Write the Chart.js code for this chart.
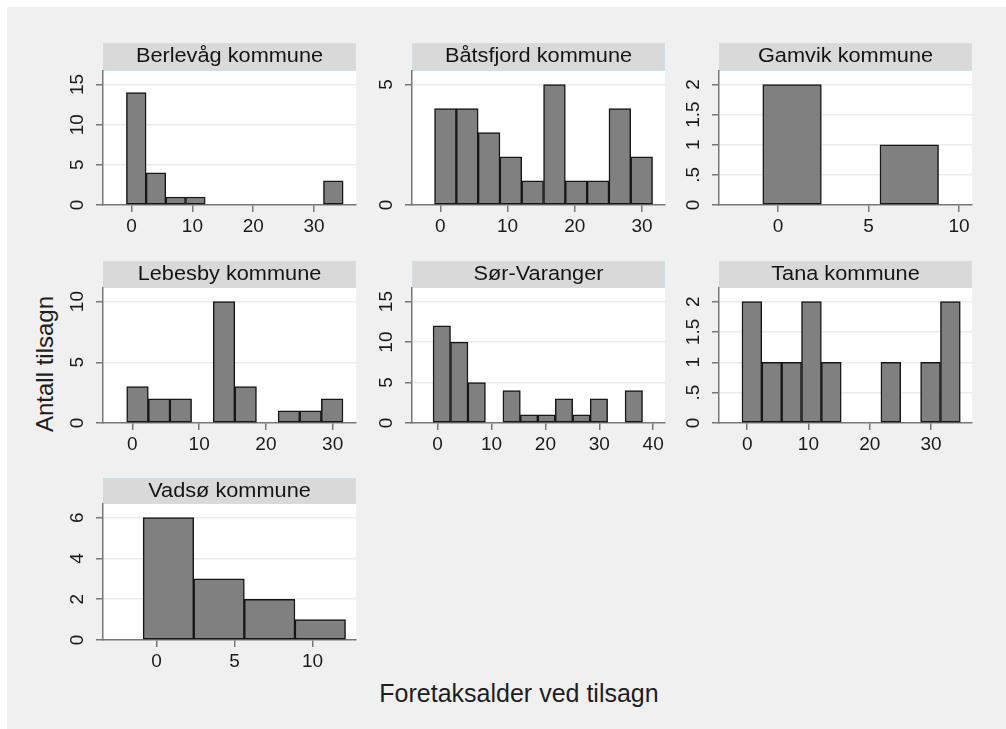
<!DOCTYPE html>
<html>
<head>
<meta charset="utf-8">
<script src="https://cdn.jsdelivr.net/npm/chart.js@4.4.0/dist/chart.umd.min.js"></script>
<style>
  html, body { margin: 0; padding: 0; background: #fff; }
  #page { position: absolute; left: 7px; top: 7px; width: 999px; height: 722px; background: #f0f0f0; }
  canvas { position: absolute; }
  .axtitle { position: absolute; font-family: "Liberation Sans", Arial, sans-serif; color: #1e1e1e;
             white-space: nowrap; line-height: 1; transform-origin: 50% 50%; }
</style>
</head>
<body>
<div id="page"></div>
<div class="axtitle" id="ytitle" style="font-size:24px; left:45px; top:364px; transform:translate(-50%,-50%) rotate(-90deg);">Antall tilsagn</div>
<div class="axtitle" id="xtitle" style="font-size:25px; left:519px; top:693px; transform:translate(-50%,-50%);">Foretaksalder ved tilsagn</div>
<script>
const panelNames = ['Berlevåg kommune', 'Båtsfjord kommune', 'Gamvik kommune',
                    'Lebesby kommune', 'Sør-Varanger', 'Tana kommune', 'Vadsø kommune'];

// histogram bins of Foretaksalder (same start/width in every panel)
const binStart = -0.85;
const binWidth = 3.24;

// number of tilsagn per bin
const berlevag    = [14, 4, 1, 1, 0, 0, 0, 0, 0, 0, 3];
const batsfjord   = [4, 4, 3, 2, 1, 5, 1, 1, 4, 2];
const gamvik      = [2, 0, 1];
const lebesby     = [3, 2, 2, 0, 10, 3, 0, 1, 1, 2];
const sorVaranger = [12, 10, 5, 0, 4, 1, 1, 3, 1, 3, 0, 4];
const tana        = [2, 1, 1, 2, 1, 0, 0, 1, 0, 1, 2];
const vadso       = [6, 3, 2, 1];
const counts = [berlevag, batsfjord, gamvik, lebesby, sorVaranger, tana, vadso];

const xTicks = [[0, 10, 20, 30], [0, 10, 20, 30], [0, 5, 10], [0, 10, 20, 30],
                [0, 10, 20, 30, 40], [0, 10, 20, 30], [0, 5, 10]];
const yTicks = [[0, 5, 10, 15], [0, 5], [0, .5, 1, 1.5, 2], [0, 5, 10],
                [0, 5, 10, 15], [0, .5, 1, 1.5, 2], [0, 2, 4, 6]];
const xMin = [-4.7, -4.2, -3.27, -4.4, -4.76, -4.6, -3.42];
const xMax = [36.9, 33.4, 10.72, 33.5, 42.2, 36.7, 12.78];

// page layout (pixels)
const colLeft = [103, 412, 719];
const plotW = 253;
const stripTop = [43, 261, 478];
const plotTop = [71, 288, 504];
const plotBottom = [205, 423, 640];
const yAxisW = 50, xAxisH = 40, rightPad = 12;

const FONT = '"Liberation Sans", Arial, sans-serif';
const axisColor = '#777777';
const textColor = '#1a1a1a';

// Stata style tick labels: .5 instead of 0.5
const fmt = v => String(v).replace(/^0\./, '.');

const panelPlugin = {
  id: 'panel',
  beforeDraw(chart, args, opts) {
    const { ctx, chartArea: a } = chart;
    ctx.save();
    ctx.fillStyle = '#ffffff';
    ctx.fillRect(a.left, a.top, a.right - a.left, a.bottom - a.top);
    // title strip
    ctx.fillStyle = '#d9d9d9';
    ctx.fillRect(a.left, 0, a.right - a.left, a.top);
    ctx.strokeStyle = '#cde0e4';
    ctx.lineWidth = 1;
    ctx.strokeRect(a.left + 0.5, 0.5, a.right - a.left - 1, a.top - 1);
    ctx.fillStyle = '#141414';
    ctx.font = '20.5px ' + FONT;
    ctx.textAlign = 'center';
    ctx.textBaseline = 'alphabetic';
    ctx.translate((a.left + a.right) / 2, 19);
    ctx.scale(1.06, 1);
    ctx.fillText(opts.title, 0, 0);
    ctx.restore();
  },
  afterDraw(chart) {
    // rotated y tick labels, as in Stata
    const { ctx, chartArea: a } = chart;
    const ys = chart.scales.y;
    ctx.save();
    ctx.fillStyle = textColor;
    ctx.font = '19px ' + FONT;
    ctx.textAlign = 'center';
    ctx.textBaseline = 'middle';
    ys.ticks.forEach(t => {
      ctx.save();
      ctx.translate(a.left - 25.5, ys.getPixelForValue(t.value));
      ctx.rotate(-Math.PI / 2);
      ctx.fillText(fmt(t.value), 0, 0);
      ctx.restore();
    });
    ctx.restore();
  }
};

counts.forEach((c, i) => {
  const col = i % 3, row = Math.floor(i / 3);
  const cv = document.createElement('canvas');
  const w = yAxisW + plotW + rightPad;
  const h = plotBottom[row] - stripTop[row] + xAxisH;
  cv.width = w; cv.height = h;
  cv.style.left = (colLeft[col] - yAxisW) + 'px';
  cv.style.top = stripTop[row] + 'px';
  cv.style.width = w + 'px'; cv.style.height = h + 'px';
  document.body.appendChild(cv);

  const data = c.map((n, j) => ({ x: binStart + (j + 0.5) * binWidth, y: n > 0 ? n : null }));
  const yt = yTicks[i];

  new Chart(cv, {
    type: 'bar',
    data: {
      datasets: [{
        data: data,
        backgroundColor: '#808080',
        borderColor: '#161616',
        borderWidth: 1.5,
        borderSkipped: false,
        barPercentage: 1,
        categoryPercentage: 1
      }]
    },
    options: {
      responsive: false,
      animation: false,
      events: [],
      layout: { padding: { top: plotTop[row] - stripTop[row], right: rightPad, left: 0, bottom: 0 } },
      plugins: {
        legend: { display: false },
        tooltip: { enabled: false },
        panel: { title: panelNames[i] }
      },
      scales: {
        x: {
          type: 'linear',
          min: xMin[i], max: xMax[i],
          offset: false,
          afterBuildTicks: s => { s.ticks = xTicks[i].map(v => ({ value: v })); },
          afterFit: s => { s.height = xAxisH; },
          grid: { offset: false, drawOnChartArea: false, drawTicks: true, tickLength: 7,
                  color: axisColor, lineWidth: 1.5 },
          border: { display: true, color: axisColor, width: 1.5 },
          ticks: { color: textColor, font: { family: FONT, size: 19 }, padding: 3,
                   maxRotation: 0, autoSkip: false, callback: v => fmt(v) }
        },
        y: {
          type: 'linear',
          min: 0, max: yt[yt.length - 1] * 1.112,
          afterBuildTicks: s => { s.ticks = yt.map(v => ({ value: v })); },
          afterFit: s => { s.width = yAxisW; },
          grid: { color: ctx => (ctx.tick && ctx.tick.value === 0) ? 'rgba(0,0,0,0)' : '#ebebeb',
                  lineWidth: 1.5, drawTicks: true, tickLength: 7, tickColor: axisColor },
          border: { display: true, color: axisColor, width: 1.5 },
          ticks: { display: false }
        }
      }
    },
    plugins: [panelPlugin]
  });
});
</script>
</body>
</html>
